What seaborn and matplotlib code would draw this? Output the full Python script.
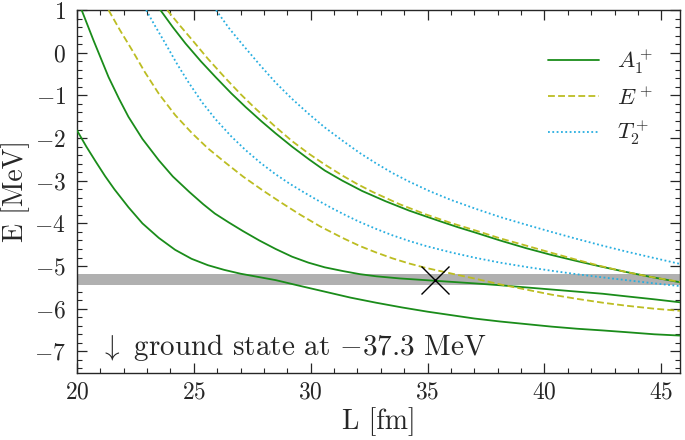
import numpy as np
import pandas as pd
import matplotlib
matplotlib.use("Agg")
import matplotlib.pyplot as plt
from matplotlib.lines import Line2D
import seaborn as sns

# ---- data ----
a1_1_L = [20.0, 20.4, 20.8, 21.2, 21.6, 22.2, 22.8, 23.5, 24.2, 24.9, 25.6, 26.3, 27.0, 27.7, 28.5,
          29.5, 30.6, 31.7, 32.8, 33.9, 35.0, 36.0, 37.0, 38.1, 39.2, 40.3, 41.4, 42.5, 43.5, 44.7, 45.8]
a1_1_E = [-1.82, -2.20, -2.55, -2.89, -3.20, -3.62, -4.00, -4.34, -4.62, -4.83, -4.98, -5.09, -5.18, -5.25, -5.33,
          -5.46, -5.60, -5.74, -5.86, -5.97, -6.07, -6.15, -6.23, -6.30, -6.36, -6.42, -6.47, -6.51, -6.55, -6.60, -6.63]

a1_2_L = [20.2, 20.7, 21.35, 21.8, 22.2, 22.8, 23.5, 24.1, 24.8, 25.4, 25.9, 26.5, 27.1, 27.8, 28.5, 29.2,
          29.9, 30.6, 31.4, 32.1, 32.8, 33.8, 34.9, 36.0, 37.1, 38.1, 39.2, 40.3, 41.4, 42.5, 43.5, 44.7, 45.8]
a1_2_E = [1.0, 0.30, -0.57, -1.08, -1.50, -2.02, -2.52, -2.90, -3.26, -3.55, -3.77, -3.98, -4.18, -4.40, -4.60, -4.78,
          -4.92, -5.03, -5.12, -5.19, -5.24, -5.29, -5.33, -5.37, -5.41, -5.45, -5.50, -5.55, -5.60, -5.65, -5.71, -5.78, -5.85]

a1_3_L = [23.57, 24.1, 24.64, 25.3, 25.93, 26.6, 27.21, 27.9, 28.5, 29.2, 29.93, 30.6, 31.36, 32.2, 33.2, 34.21,
          35.0, 35.64, 36.3, 37.07, 38.1, 39.21, 40.3, 41.36, 42.4, 43.5, 44.6, 45.8]
a1_3_E = [1.0, 0.60, 0.22, -0.20, -0.57, -0.95, -1.27, -1.61, -1.89, -2.20, -2.50, -2.76, -3.00, -3.24, -3.48, -3.70,
          -3.85, -3.97, -4.09, -4.22, -4.40, -4.58, -4.74, -4.88, -5.01, -5.14, -5.26, -5.38]

e_1_L = [21.35, 21.85, 22.36, 22.9, 23.5, 24.2, 24.93, 25.6, 26.36, 27.1, 27.93, 28.7, 29.5, 30.4, 31.36, 32.1,
         32.79, 33.5, 34.21, 34.9, 35.64, 36.3, 37.07, 38.1, 39.2, 40.3, 41.4, 42.5, 43.5, 44.7, 45.8]
e_1_E = [1.0, 0.52, 0.06, -0.45, -0.96, -1.46, -1.89, -2.24, -2.58, -2.90, -3.22, -3.50, -3.78, -4.07, -4.34, -4.53,
         -4.68, -4.82, -4.94, -5.04, -5.13, -5.21, -5.30, -5.43, -5.55, -5.67, -5.77, -5.86, -5.93, -6.00, -6.05]

e_2_L = [23.86, 24.4, 24.93, 25.6, 26.36, 27.0, 27.6, 28.5, 29.2, 29.93, 30.6, 31.36, 32.0, 32.64, 33.8, 34.93,
         36.0, 37.07, 38.1, 39.21, 40.3, 41.36, 42.4, 43.5, 44.6, 45.8]
e_2_E = [1.0, 0.64, 0.30, -0.14, -0.60, -0.97, -1.29, -1.74, -2.07, -2.37, -2.62, -2.88, -3.08, -3.26, -3.55, -3.79,
         -3.99, -4.17, -4.35, -4.52, -4.69, -4.85, -5.00, -5.14, -5.26, -5.37]

t2_1_L = [22.96, 23.35, 23.78, 24.3, 24.78, 25.35, 25.93, 26.6, 27.21, 27.85, 28.5, 29.1, 29.64, 30.3, 30.93, 31.5,
          32.07, 32.8, 33.5, 34.2, 34.93, 36.0, 37.07, 38.1, 39.21, 40.3, 41.36, 42.4, 43.5, 44.6, 45.8]
t2_1_E = [1.0, 0.62, 0.22, -0.28, -0.70, -1.16, -1.56, -1.96, -2.28, -2.58, -2.85, -3.07, -3.25, -3.46, -3.65, -3.81,
          -3.96, -4.13, -4.28, -4.41, -4.53, -4.68, -4.81, -4.92, -5.02, -5.11, -5.19, -5.26, -5.33, -5.40, -5.47]

t2_2_L = [25.95, 26.5, 27.07, 27.8, 28.5, 29.2, 29.93, 30.6, 31.36, 32.1, 32.79, 33.5, 34.21, 35.07, 36.0, 37.07,
          38.1, 39.21, 40.3, 41.36, 42.4, 43.5, 44.6, 45.8]
t2_2_E = [1.0, 0.58, 0.20, -0.27, -0.70, -1.08, -1.44, -1.75, -2.06, -2.35, -2.59, -2.82, -3.02, -3.24, -3.45, -3.66,
          -3.85, -4.03, -4.20, -4.36, -4.51, -4.66, -4.80, -4.95]

band_E = [-5.455, -5.197]
cross_L = [35.3]
cross_E = [-5.32]

legend_labels = [r"$A_1^+$", r"$E^+$", r"$T_2^+$"]
note_text = r"$\downarrow$ ground state at $-37.3$ MeV"

# ---- style ----
sns.set_style("ticks")
plt.rcParams.update({
    "font.family": "serif",
    "font.serif": ["cmr10", "DejaVu Serif"],
    "mathtext.fontset": "cm",
    "axes.formatter.use_mathtext": True,
    "axes.unicode_minus": True,
    "xtick.direction": "in",
    "ytick.direction": "in",
    "xtick.top": True,
    "ytick.right": True,
})

green = "#1a8c1a"
olive = "#bcbd22"
blue = "#27aee0"
dash = (0, (3.8, 1.8))
dot = (0, (1, 1.4))

fig = plt.figure(figsize=(6.85, 4.40), dpi=100)
ax = fig.add_axes([0.1124, 0.153, 0.8803, 0.824])

ax.axhspan(band_E[0], band_E[1], color="#b0b0b0", lw=0, zorder=1)

curves = [
    (a1_1_L, a1_1_E, green, "-"),
    (a1_2_L, a1_2_E, green, "-"),
    (a1_3_L, a1_3_E, green, "-"),
    (e_1_L, e_1_E, olive, dash),
    (e_2_L, e_2_E, olive, dash),
    (t2_1_L, t2_1_E, blue, dot),
    (t2_2_L, t2_2_E, blue, dot),
]
for L, E, c, ls in curves:
    df = pd.DataFrame({"L": L, "E": E})
    sns.lineplot(data=df, x="L", y="E", ax=ax, color=c, linestyle=ls, lw=1.3,
                 sort=False, estimator=None, zorder=3)

ax.plot(cross_L, cross_E, marker="x", ms=20, mew=1.0, color="black", ls="none", zorder=4)

ax.set_xlim(20, 45.8)
ax.set_ylim(-7.5, 1)
ax.set_xticks([20, 25, 30, 35, 40, 45])
ax.set_yticks(list(range(-7, 2)))
ax.xaxis.set_minor_locator(matplotlib.ticker.MultipleLocator(1))
ax.yaxis.set_minor_locator(matplotlib.ticker.MultipleLocator(0.2))
ax.tick_params(which="major", length=7, width=0.9, labelsize=17)
ax.tick_params(axis="x", which="major", pad=6)
ax.tick_params(axis="y", which="major", pad=8)
ax.tick_params(which="minor", length=3.5, width=0.8)
for s in ax.spines.values():
    s.set_linewidth(1.0)

ax.set_xlabel("L [fm]", fontsize=20, labelpad=3)
ax.set_ylabel("E [MeV]", fontsize=20, labelpad=3)

ax.text(20.95, -6.9, note_text, fontsize=21, ha="left", va="center")

handles = [Line2D([], [], color=green, lw=1.3, ls="-"),
           Line2D([], [], color=olive, lw=1.3, ls=dash),
           Line2D([], [], color=blue, lw=1.3, ls=dot)]
ax.legend(handles, legend_labels, loc="upper right", bbox_to_anchor=(0.99, 0.955),
          frameon=False, fontsize=16.5, handlelength=2.2, handletextpad=0.8,
          labelspacing=0.45)

fig.savefig("out.png", dpi=100)
